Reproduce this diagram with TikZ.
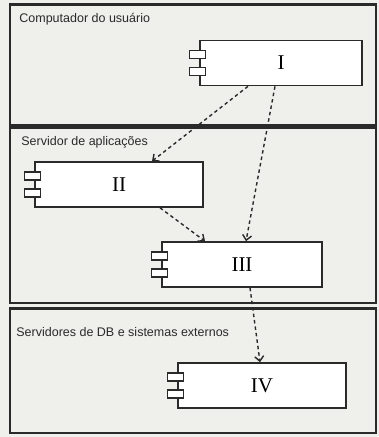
\documentclass[tikz,border=0pt]{standalone}
\usepackage{fontspec}
\setmainfont{Liberation Serif}
\setsansfont{Liberation Sans}
\usepackage{tikz}
\usetikzlibrary{arrows.meta}
\definecolor{paper}{HTML}{EFEFEB}
\definecolor{ink}{HTML}{2A2A2A}
\tikzset{%
    >={Straight Barb[length=5pt,width=9pt]},
    package/.style={draw=ink, line width=1.6pt, fill=paper, inner sep=0pt},
    pkglabel/.style={anchor=north west, inner sep=0pt, font=\sffamily\fontsize{12.5}{14}\selectfont, text=ink},
    compbox/.style={draw=ink, line width=1.6pt, fill=white, inner sep=0pt,
        minimum height=45pt, font=\fontsize{21}{23}\selectfont},
    comptab/.style={draw=ink, line width=1.4pt, fill=white},
    depends/.style={->, draw=ink, line width=1.4pt, dash pattern=on 3.5pt off 3pt}
}
% name, x, y, width, label
\newcommand\Component[5]{%
    \node[compbox, minimum width=#4pt] (#1) at (#2,#3) {#5};
    \draw[comptab] ([xshift=-10pt,yshift=4.5pt]#1.west) rectangle ([xshift=6pt,yshift=12.5pt]#1.west);
    \draw[comptab] ([xshift=-10pt,yshift=-12.5pt]#1.west) rectangle ([xshift=6pt,yshift=-4.5pt]#1.west)
}

\begin{document}
\begin{tikzpicture}[x=1pt, y=-1pt]
      \fill[paper] (0,0) rectangle (379,437);
      \useasboundingbox (0,0) rectangle (379,437);

      % packages
      \node[package, minimum width=366pt, minimum height=120pt] (user) at (193,65) {};
      \node[package, minimum width=366pt, minimum height=175pt] (apps) at (193,215.5) {};
      \node[package, minimum width=366pt, minimum height=124pt] (ext) at (193,371) {};
      \draw[ink, line width=3pt] (user.north west) -- (user.north east);
      \draw[ink, line width=3pt] (apps.north west) -- (apps.north east);
      \draw[ink, line width=3pt] (ext.north west) -- (ext.north east);

      \node[pkglabel] (userlabel) at ([xshift=10pt,yshift=-9pt]user.north west) {Computador do usuário};
      \node[pkglabel] (appslabel) at ([xshift=12pt,yshift=-9pt]apps.north west) {Servidor de aplicações};
      \node[pkglabel] (extlabel) at ([xshift=7pt,yshift=-19pt]ext.north west) {Servidores de DB e sistemas externos};

      % components
      \Component{I}{281}{63}{162}{I};
      \Component{II}{119}{184.5}{168}{II};
      \Component{III}{242}{264.5}{160}{III};
      \Component{IV}{262}{385.5}{168}{IV};

      % dependencies
      \draw[depends] ([xshift=-33pt]I.south) -- ([xshift=33pt]II.north);
      \draw[depends] ([xshift=-6pt]I.south) -- ([xshift=4pt]III.north);
      \draw[depends] ([xshift=41pt]II.south) -- ([xshift=-37pt]III.north);
      \draw[depends] ([xshift=8pt]III.south) -- ([xshift=-2pt]IV.north);
\end{tikzpicture}
\end{document}
